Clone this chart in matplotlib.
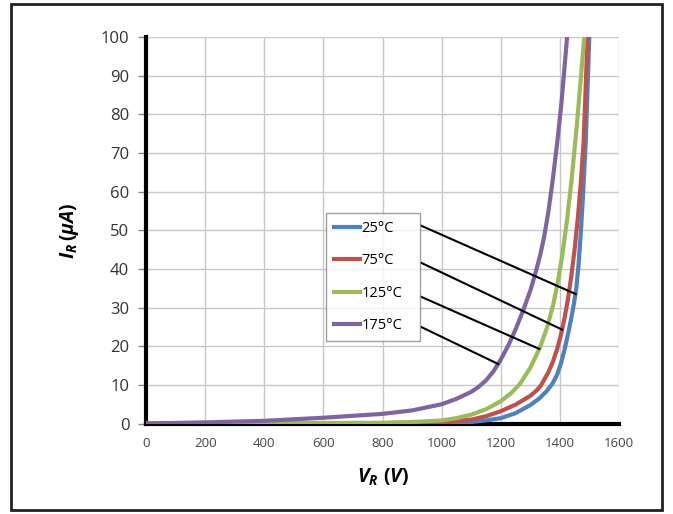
import matplotlib.pyplot as plt
from matplotlib.patches import Rectangle

# reverse leakage current vs reverse voltage
labels = ['25°C', '75°C', '125°C', '175°C']
colors = ['#4F81BD', '#C0504D', '#9BBB59', '#8064A2']

v_25 = [0, 800, 1000, 1100, 1150, 1200, 1250, 1300, 1330, 1355, 1375, 1390, 1403, 1415, 1428, 1440, 1448, 1455, 1462, 1470, 1477, 1487, 1499]
i_25 = [0, 0.05, 0.15, 0.4, 0.8, 1.4, 2.7, 4.8, 6.5, 8.4, 10.4, 12.6, 15.5, 19, 23.5, 28, 31.5, 35, 40.5, 49, 58, 73, 100]

v_75 = [0, 800, 1000, 1100, 1150, 1200, 1250, 1300, 1320, 1335, 1360, 1375, 1390, 1400, 1407, 1416, 1426, 1438, 1450, 1460, 1470, 1480, 1493]
i_75 = [0, 0.1, 0.35, 1.0, 1.9, 3.2, 4.9, 7.2, 8.5, 9.8, 13.2, 15.8, 19.2, 22.0, 24.3, 27.6, 31.8, 38, 45.5, 53, 62, 73, 100]

v_125 = [0, 800, 900, 1000, 1050, 1100, 1150, 1200, 1235, 1265, 1300, 1333, 1358, 1378, 1395, 1410, 1425, 1440, 1458, 1482]
i_125 = [0, 0.2, 0.4, 0.8, 1.4, 2.3, 3.7, 5.8, 7.9, 10.3, 14.5, 19.8, 25.3, 31.1, 37.6, 44.8, 53.5, 63.7, 78.1, 100]

v_175 = [0, 200, 400, 600, 800, 900, 1000, 1050, 1100, 1125, 1150, 1175, 1200, 1225, 1250, 1275, 1300, 1318, 1333, 1346, 1360, 1375, 1390, 1405, 1424]
i_175 = [0, 0.3, 0.7, 1.5, 2.5, 3.4, 5.0, 6.4, 8.2, 9.5, 11.2, 13.5, 16.6, 20.2, 24.4, 29.2, 34.5, 39.2, 43.6, 48.2, 54.5, 62.8, 72.3, 83.1, 100]

# leader lines from the legend to each curve
lead_v0 = 930
lead_i0 = [51.2, 41.6, 32.8, 25.0]
lead_v1 = [1453, 1407, 1330, 1191]
lead_i1 = [33.5, 24.3, 19.3, 15.4]

plt.rcParams['font.family'] = ['Open Sans', 'DejaVu Sans']
plt.rcParams['mathtext.fontset'] = 'custom'
plt.rcParams['mathtext.it'] = 'Open Sans:italic:bold'
plt.rcParams['mathtext.rm'] = 'Open Sans:bold'

fig = plt.figure(figsize=(6.73, 5.14), dpi=100)
fig.patches.append(Rectangle((0.016, 0.008), 0.968, 0.984, transform=fig.transFigure,
                             fill=False, edgecolor='#222222', linewidth=2))

ax = fig.add_axes([0.217, 0.176, 0.703, 0.752])

curves = [(v_25, i_25), (v_75, i_75), (v_125, i_125), (v_175, i_175)]
for (v, i), lab, c in zip(curves, labels, colors):
    ax.plot(v, i, color=c, lw=3, label=lab, zorder=3, solid_joinstyle='round')

for k in range(4):
    ax.plot([lead_v0, lead_v1[k]], [lead_i0[k], lead_i1[k]], color='black', lw=1.5, zorder=4)

ax.set_xlim(0, 1600)
ax.set_ylim(0, 100)
ax.set_xticks(range(0, 1601, 200))
ax.set_yticks(range(0, 101, 10))
ax.grid(True, color='#c8c8c8', lw=1)
ax.set_axisbelow(True)

for s in ['top', 'right']:
    ax.spines[s].set_visible(False)
ax.spines['left'].set_linewidth(3)
ax.spines['bottom'].set_linewidth(3)

ax.tick_params(axis='y', labelsize=12, length=6, color='#888888', width=1, pad=6, labelcolor='#333333')
ax.tick_params(axis='x', labelsize=9.5, length=0, pad=10, labelcolor='#444444')

ax.set_xlabel(r'$V_R\ (V)$', fontsize=14, labelpad=12)
ax.set_ylabel(r'$I_R\,(\mu A)$', fontsize=14, labelpad=14)

leg = ax.legend(loc='upper left', bbox_to_anchor=(0.38, 0.208, 0.2, 0.337), mode='expand',
                fontsize=10.5, frameon=True, fancybox=False, edgecolor='#888888',
                handlelength=1.8, handletextpad=0.1, labelspacing=1.2, borderpad=0.55,
                borderaxespad=0)
leg.get_frame().set_linewidth(1)

plt.savefig('out.png', dpi=100)
